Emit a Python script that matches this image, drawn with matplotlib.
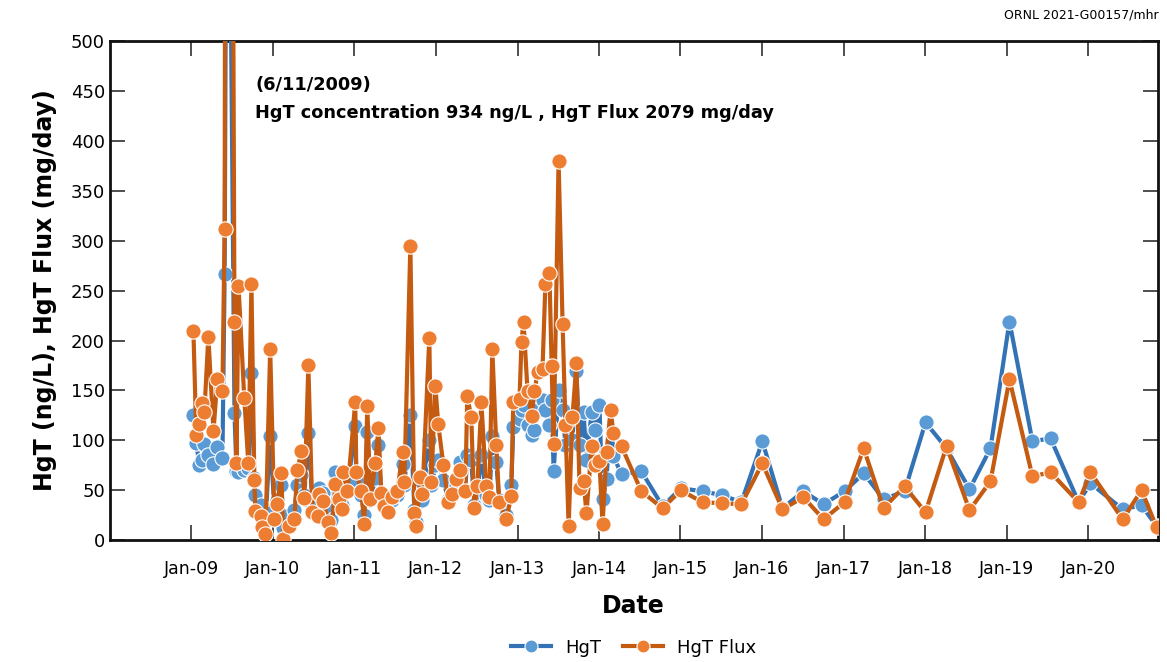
import matplotlib
matplotlib.use("Agg")
import matplotlib.pyplot as plt
import matplotlib.dates as mdates
import pandas as pd

# sample dates and values
dates = [
    "2009-01-10", "2009-01-23", "2009-02-06", "2009-02-19", "2009-02-28", "2009-03-18",
    "2009-04-10", "2009-04-27", "2009-05-20", "2009-05-30", "2009-06-11", "2009-07-13",
    "2009-07-22", "2009-07-31", "2009-08-26", "2009-09-13", "2009-09-27", "2009-10-10",
    "2009-10-15", "2009-11-11", "2009-11-15", "2009-11-29", "2009-12-20", "2010-01-08",
    "2010-01-21", "2010-02-08", "2010-02-17", "2010-03-16", "2010-04-07", "2010-04-21",
    "2010-05-09", "2010-05-22", "2010-06-09", "2010-06-27", "2010-07-24", "2010-07-28",
    "2010-08-15", "2010-09-07", "2010-09-20", "2010-10-08", "2010-10-26", "2010-11-08",
    "2010-11-13", "2010-12-01", "2011-01-05", "2011-01-10", "2011-02-01", "2011-02-15",
    "2011-02-28", "2011-03-14", "2011-04-05", "2011-04-19", "2011-05-02", "2011-05-15",
    "2011-06-02", "2011-06-20", "2011-07-13", "2011-08-05", "2011-08-13", "2011-09-09",
    "2011-09-27", "2011-10-06", "2011-10-24", "2011-11-02", "2011-12-03", "2011-12-12",
    "2011-12-30", "2012-01-12", "2012-02-04", "2012-02-26", "2012-03-15", "2012-04-02",
    "2012-04-20", "2012-05-12", "2012-05-21", "2012-06-08", "2012-06-21", "2012-07-05",
    "2012-07-23", "2012-08-14", "2012-08-28", "2012-09-10", "2012-09-28", "2012-10-11",
    "2012-11-12", "2012-12-04", "2012-12-13", "2013-01-10", "2013-01-19", "2013-01-28",
    "2013-02-15", "2013-03-05", "2013-03-18", "2013-04-01", "2013-04-23", "2013-05-06",
    "2013-05-24", "2013-06-03", "2013-06-12", "2013-07-04", "2013-07-22", "2013-08-04",
    "2013-08-18", "2013-09-04", "2013-09-22", "2013-10-06", "2013-10-24", "2013-11-06",
    "2013-11-29", "2013-12-16", "2014-01-03", "2014-01-17", "2014-02-04", "2014-02-22",
    "2014-03-07", "2014-04-12", "2014-07-10", "2014-10-13", "2015-01-03", "2015-04-10",
    "2015-07-08", "2015-10-01", "2016-01-03", "2016-04-02", "2016-07-05", "2016-10-03",
    "2017-01-05", "2017-04-01", "2017-06-29", "2017-10-01", "2018-01-03", "2018-04-07",
    "2018-07-19", "2018-10-21", "2019-01-14", "2019-04-27", "2019-07-17", "2019-11-20",
    "2020-01-12", "2020-06-04", "2020-08-28", "2020-11-03",
]

hgt = [
    125, 97, 75, 80, 96, 85, 76, 93, 82, 267, 934, 127,
    69, 68, 70, 72, 167, 62, 45, 35, 22, 18, 104, 30,
    40, 55, 12, 25, 30, 55, 65, 45, 107, 35, 38, 52,
    47, 30, 20, 68, 45, 35, 68, 50, 114, 60, 45, 25,
    108, 40, 62, 95, 40, 35, 30, 40, 45, 76, 55, 125,
    30, 18, 60, 40, 100, 55, 75, 80, 60, 40, 45, 55,
    78, 50, 85, 80, 35, 48, 85, 45, 40, 104, 78, 40,
    25, 55, 113, 121, 130, 135, 115, 105, 110, 130, 140, 130,
    115, 140, 69, 150, 130, 95, 120, 100, 169, 95, 128, 80,
    128, 110, 135, 41, 61, 130, 84, 66, 69, 34, 52, 49,
    45, 38, 99, 32, 49, 36, 49, 67, 41, 49, 118, 92,
    51, 92, 219, 99, 102, 38, 57, 31, 35, 14,
]

hgt_flux = [
    210, 105, 116, 137, 128, 204, 109, 161, 149, 312, 2079, 219,
    77, 255, 142, 77, 257, 60, 29, 24, 13, 6, 192, 21,
    36, 67, 1, 14, 21, 70, 89, 42, 175, 28, 24, 46,
    39, 18, 7, 56, 41, 31, 68, 49, 138, 68, 49, 16,
    134, 41, 77, 112, 47, 34, 28, 43, 49, 88, 58, 295,
    27, 14, 63, 46, 203, 58, 154, 116, 75, 38, 46, 61,
    70, 49, 144, 123, 32, 54, 138, 54, 43, 192, 95, 38,
    21, 44, 138, 141, 199, 219, 149, 124, 149, 168, 171, 257,
    268, 174, 96, 380, 217, 115, 14, 123, 177, 52, 59, 27,
    94, 75, 79, 16, 88, 130, 107, 94, 49, 32, 50, 38,
    37, 36, 77, 31, 43, 21, 38, 92, 32, 54, 28, 94,
    30, 59, 161, 64, 68, 38, 68, 21, 50, 13,
]

year_ticks = [f"{y}-01-01" for y in range(2009, 2021)]
y_ticks = list(range(0, 501, 50))

df = pd.DataFrame({"date": pd.to_datetime(dates), "hgt": hgt, "flux": hgt_flux})

fig = plt.figure(figsize=(11.67, 6.62), dpi=100)
ax = fig.add_axes([0.094, 0.184, 0.898, 0.754])

ax.plot(df["date"], df["hgt"], color="#3373b5", lw=3, marker="o", ms=11,
        mfc="#5b9bd5", mec="white", mew=0.8, label="HgT", zorder=3)
ax.plot(df["date"], df["flux"], color="#c55a11", lw=3, marker="o", ms=11,
        mfc="#ed7d31", mec="white", mew=0.8, label="HgT Flux", zorder=4)

ax.set_ylim(0, 500)
ax.set_xlim(pd.Timestamp("2008-01-01"), pd.Timestamp("2020-11-08"))
ax.set_yticks(y_ticks)
ax.set_xticks(pd.to_datetime(year_ticks))
ax.xaxis.set_major_formatter(mdates.DateFormatter("%b-%y"))

ax.tick_params(direction="in", length=11, width=1.3, color="#404040",
               top=True, right=True, labelsize=13)
ax.tick_params(axis="x", labelsize=12.5, pad=14)
for s in ax.spines.values():
    s.set_linewidth(2)
    s.set_color("#111111")

ax.set_xlabel("Date", fontsize=17, fontweight="bold", labelpad=12)
ax.set_ylabel("HgT (ng/L), HgT Flux (mg/day)", fontsize=17, fontweight="bold", labelpad=10)

# note for the off-scale sample
ax.text(0.139, 0.93, "(6/11/2009)\nHgT concentration 934 ng/L , HgT Flux 2079 mg/day",
        transform=ax.transAxes, fontsize=12.8, fontweight="bold", va="top", linespacing=1.7)

fig.text(0.993, 0.972, "ORNL 2021-G00157/mhr", ha="right", fontsize=9)

ax.legend(loc="center", bbox_to_anchor=(0.5, -0.215), ncol=2, frameon=False,
          fontsize=13, handlelength=2.2, columnspacing=1.2, markerscale=0.85)

fig.savefig("out.png", dpi=100)
